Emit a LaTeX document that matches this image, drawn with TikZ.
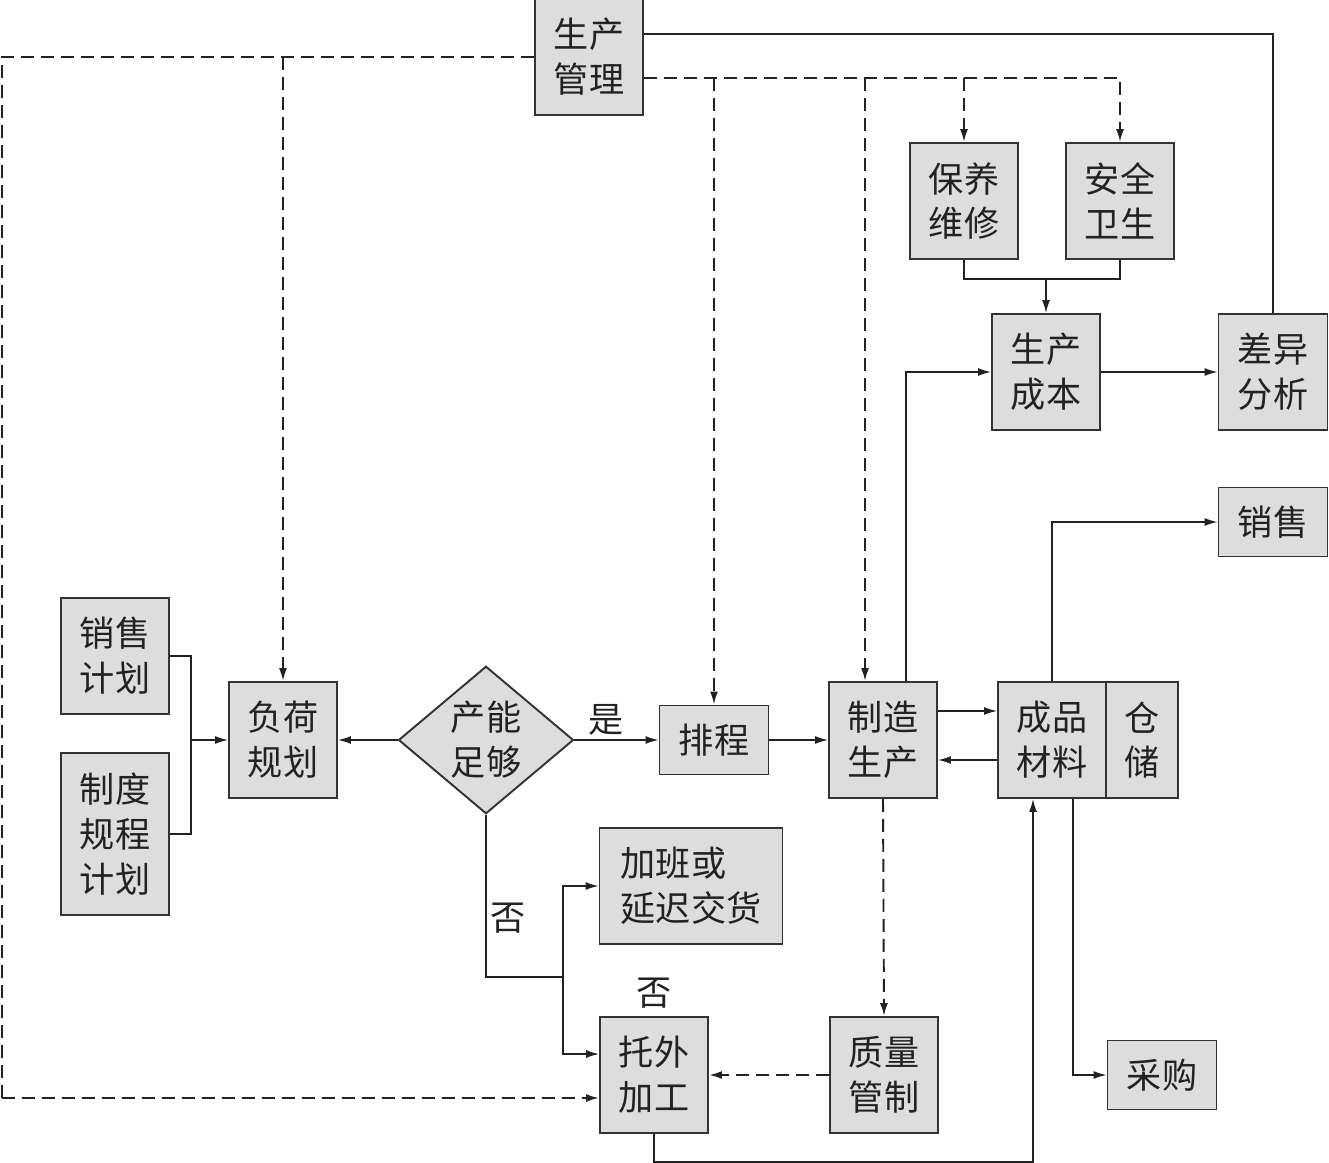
\documentclass[tikz,border=0pt]{standalone}
\usepackage{fontspec}
\setmainfont{Noto Sans CJK SC}
\usepackage{xcolor}
\usepackage{tikz}
\usetikzlibrary{positioning,arrows.meta,shapes.geometric}
\definecolor{boxfill}{HTML}{DDDDDD}
\definecolor{boxline}{HTML}{333333}
\definecolor{ink}{HTML}{222222}
\tikzset{
  box/.style       ={draw=boxline, fill=boxfill, line width=1.1pt, text=ink,
                     font=\fontsize{20}{25.5}\selectfont, align=center,
                     minimum width=2.16cm, minimum height=2.32cm, inner sep=2pt},
  flat/.style      ={box, minimum width=2.18cm, minimum height=1.38cm},
  decide/.style    ={diamond, draw=boxline, fill=boxfill, line width=1.1pt, text=ink,
                     font=\fontsize{20}{25.5}\selectfont, align=center,
                     minimum width=3.5cm, minimum height=2.88cm, inner sep=0pt},
  wire/.style      ={draw=ink, line width=0.8pt},
  flowarr/.style   ={wire, -{Latex[length=2.6mm,width=1.6mm]}},
  dashedwire/.style={wire, line width=1.1pt, dash pattern=on 2.6mm off 1.4mm},
  dashedarr/.style ={flowarr, line width=1.1pt, dash pattern=on 2.6mm off 1.4mm},
  tag/.style       ={text=ink, font=\fontsize{20}{24}\selectfont, inner sep=2pt},
}

\begin{document}
\begin{tikzpicture}[x=0.02cm, y=-0.02cm]
\useasboundingbox (0,0) rectangle (1329,1163);

\node[box] (mgmt) at (589,57) {生产\\管理};
\node[box] (maint) at (964,201) {保养\\维修};
\node[box] (safe) at (1120,201) {安全\\卫生};
\node[box] (cost) at (1046,372) {生产\\成本};
\node[box, minimum width=2.18cm] (diff) at (1273,372) {差异\\分析};
\node[flat] (sales) at (1273,522) {销售};
\node[box] (splan) at (115,656) {销售\\计划};
\node[box, minimum height=3.24cm] (rules) at (115,834) {制度\\规程\\计划};
\node[box] (load) at (283,740) {负荷\\规划};
\node[decide] (cap) at (486,740) {产能\\足够};
\node[flat] (sched) at (714,740) {排程};
\node[box] (mfg) at (883,740) {制造\\生产};
\node[box] (goods) at (1052,740) {成品\\材料};
\node[box, minimum width=1.44cm, right=-1.1pt of goods] (store) {仓\\储};
\node[box, minimum width=3.66cm, align=left] (ot) at (691,886) {加班或\\延迟交货};
\node[box] (outs) at (654,1075) {托外\\加工};
\node[box] (qc) at (884,1075) {质量\\管制};
\node[flat] (purch) at (1162,1075) {采购};
\node[tag, above=2pt of outs] (no2) {否};

\coordinate (ml) at (2,1098);
\coordinate (mr) at ([yshift=-0.42cm]mgmt.east);
\coordinate (mfgin) at ([xshift=-0.36cm]mfg.north);
\coordinate (mfgout) at ([xshift=0.46cm]mfg.north);
\coordinate (mj) at ([yshift=-0.38cm]maint.south);
\coordinate (pj) at (191,740);
\coordinate (nj) at (563,977);
\coordinate (gin) at ([xshift=-0.38cm]goods.south);
\coordinate (gout) at ([xshift=0.42cm]goods.south);

\draw[wire] ([yshift=0.46cm]mgmt.east) -| (diff.north);
\draw[dashedwire] (mgmt.west) -| (ml);
\draw[dashedarr] (ml) -- ([yshift=-0.46cm]outs.west);
\draw[dashedarr] (load.north|-mgmt.west) -- (load.north);
\draw[dashedarr] (mr) -| (safe.north);
\draw[dashedarr] (sched.north|-mr) -- (sched.north);
\draw[dashedarr] (mfgin|-mr) -- (mfgin);
\draw[dashedarr] (maint.north|-mr) -- (maint.north);

\draw[wire] (maint.south) -- (mj) -| (safe.south);
\draw[flowarr] (cost.north|-mj) -- (cost.north);
\draw[flowarr] (mfgout) |- (cost.west);
\draw[flowarr] (cost) -- (diff);
\draw[flowarr] (goods.north) |- (sales.west);

\draw[wire] (splan.east) -| (pj) |- (rules.east);
\draw[flowarr] (pj) -- (load.west);
\draw[flowarr] (cap.west) -- (load.east);
\draw[flowarr] (cap.east) -- node[tag, above, pos=0.38]{是} (sched.west);
\draw[flowarr] (sched) -- (mfg);
\draw[flowarr] ([yshift=0.58cm]mfg.east) -- ([yshift=0.58cm]goods.west);
\draw[flowarr] ([yshift=-0.4cm]goods.west) -- ([yshift=-0.4cm]mfg.east);
\draw[dashedarr] (mfg.south) -- (qc.north);
\draw[dashedarr] (qc.west) -- (outs.east);

\draw[wire] (cap.south) |- node[tag, pos=0.32, right]{否} (nj);
\draw[flowarr] (nj) |- (ot.west);
\draw[flowarr] (nj) |- ([yshift=0.42cm]outs.west);
\draw[flowarr] (outs.south) -- ++(0,28) -| (gin);
\draw[flowarr] (gout) |- (purch.west);
\end{tikzpicture}
\end{document}
